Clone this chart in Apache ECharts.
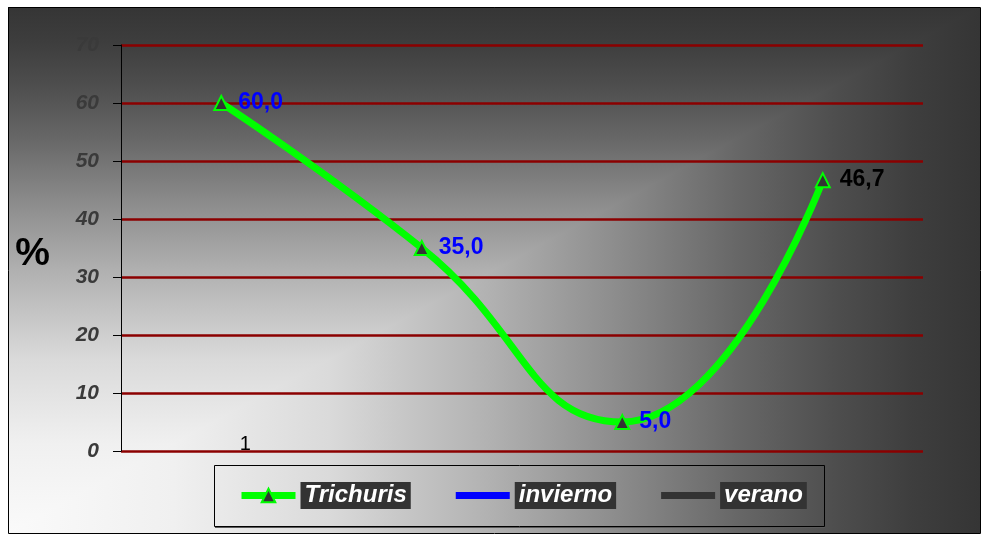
<!DOCTYPE html>
<html>
<head>
<meta charset="utf-8">
<script src="https://cdn.jsdelivr.net/npm/echarts@6/dist/echarts.min.js"></script>
<style>
  html, body { margin: 0; padding: 0; background: #ffffff; }
  #chart { width: 981px; height: 534px; }
</style>
</head>
<body>
<div id="chart"></div>
<script>
// Category slots along the x axis (only the first one is labelled)
const categories = ['1', '2', '3', '4'];
// Prevalence values (%)
const trichuris = [60.0, 35.0, 5.0, 46.7];
const invierno = [];
const verano = [];
// Value-label colours for each Trichuris point
const labelColors = ['#0000ff', '#0000ff', '#0000ff', '#000000'];
// Y axis scale and title
const yMin = 0;
const yMax = 70;
const yStep = 10;
const yTitle = '%';

const FONT = '"Liberation Sans", Arial, sans-serif';

// Chart frame; its background is shaded outward from the lower-left corner
const frame = { x: 8, y: 7, w: 972, h: 526 };
const shadeStops = [
  [0, '#fafafa'], [0.17, '#f0f0f0'], [0.33, '#dadada'], [0.5, '#b0b0b0'],
  [0.62, '#8e8e8e'], [0.75, '#676767'], [0.85, '#4e4e4e'], [0.93, '#3e3e3e'], [1, '#353535']
];
function toStops(arr) { return arr.map(s => ({ offset: s[0], color: s[1] })); }

const chart = echarts.init(document.getElementById('chart'));

const fx0 = frame.x, fy0 = frame.y, fx1 = frame.x + frame.w, fy1 = frame.y + frame.h;

chart.setOption({
  animation: false,
  textStyle: { fontFamily: FONT },
  graphic: [
    // upper-left half: shaded bottom to top
    {
      type: 'rect', silent: true, z: -100,
      shape: { x: fx0, y: fy0, width: frame.w, height: frame.h },
      style: { fill: new echarts.graphic.LinearGradient(0, fy1, 0, fy0, toStops(shadeStops), true) }
    },
    // lower-right half: shaded left to right
    {
      type: 'polygon', silent: true, z: -99,
      shape: { points: [[fx0, fy1], [fx1, fy1], [fx1, fy0]] },
      style: { fill: new echarts.graphic.LinearGradient(fx0, 0, fx1, 0, toStops(shadeStops), true) }
    },
    {
      type: 'rect', silent: true, z: 100,
      shape: { x: fx0 + 0.5, y: fy0 + 0.5, width: frame.w, height: frame.h },
      style: { fill: 'none', stroke: '#000000', lineWidth: 1 }
    },
    // y axis title
    {
      type: 'text', silent: true, z: 10,
      x: 50, y: 254,
      style: {
        text: yTitle, align: 'right', verticalAlign: 'middle',
        fill: '#000000', font: 'bold 39px ' + FONT
      }
    },
    // legend frame
    {
      type: 'rect', silent: true, z: -50,
      shape: { x: 214.5, y: 465.5, width: 610, height: 61 },
      style: { fill: 'none', stroke: '#000000', lineWidth: 1 }
    },
    {
      type: 'line', silent: true, z: -50,
      shape: { x1: 215, y1: 527.5, x2: 825, y2: 527.5 },
      style: { stroke: '#5a5a5a', lineWidth: 1 }
    }
  ],
  grid: {
    left: 121, right: 58, top: 45, bottom: 83,
    containLabel: false, outerBoundsMode: 'none'
  },
  legend: {
    left: 238, top: 482, padding: 0,
    itemGap: 45, itemWidth: 54, itemHeight: 17,
    selectedMode: false,
    lineStyle: { width: 7 },
    data: [
      { name: 'Trichuris' },
      { name: 'invierno', icon: 'path://M0,0H54V7H0Z', itemStyle: { color: '#0000ff' } },
      { name: 'verano', icon: 'path://M0,0H54V7H0Z', itemStyle: { color: '#333333' } }
    ],
    textStyle: {
      color: '#ffffff', fontSize: 24, fontStyle: 'italic', fontWeight: 'bold',
      fontFamily: FONT, backgroundColor: '#333333', padding: [2, 4, 1, 4], lineHeight: 24
    }
  },
  xAxis: {
    type: 'category',
    data: categories,
    boundaryGap: true,
    axisLine: { show: false },
    axisTick: { show: false },
    splitLine: { show: false },
    axisLabel: {
      interval: 0,
      formatter: (v, i) => (i === 0 ? v : ''),
      margin: -17,
      fontSize: 20,
      color: '#000000',
      fontFamily: FONT,
      padding: [0, 0, 0, 48]
    }
  },
  yAxis: {
    type: 'value',
    min: yMin, max: yMax, interval: yStep,
    axisLine: { show: true, lineStyle: { color: '#000000', width: 1 } },
    axisTick: { show: true, length: 8, lineStyle: { color: '#000000', width: 1 } },
    axisLabel: {
      margin: 22, fontSize: 21, fontWeight: 'bold', fontStyle: 'italic',
      color: '#3a3a3a', fontFamily: FONT
    },
    splitLine: { show: true, lineStyle: { color: '#8b0000', width: 2.5 } }
  },
  series: [
    {
      name: 'Trichuris',
      type: 'line',
      data: trichuris.map((v, i) => ({ value: v, label: { color: labelColors[i] } })),
      smooth: 0.5,
      symbol: 'triangle',
      symbolSize: 14,
      showAllSymbol: true,
      z: 5,
      lineStyle: { color: '#00ff00', width: 7 },
      itemStyle: { color: '#333333', borderColor: '#00ff00', borderWidth: 2 },
      label: {
        show: true,
        position: 'right',
        distance: 9,
        fontSize: 23,
        fontWeight: 'bold',
        fontFamily: FONT,
        formatter: p => Number(p.value).toFixed(1).replace('.', ',')
      }
    },
    {
      name: 'invierno',
      type: 'line',
      data: invierno,
      symbol: 'none',
      lineStyle: { color: '#0000ff', width: 7 },
      itemStyle: { color: '#0000ff' }
    },
    {
      name: 'verano',
      type: 'line',
      data: verano,
      symbol: 'none',
      lineStyle: { color: '#333333', width: 7 },
      itemStyle: { color: '#333333' }
    }
  ]
});
</script>
</body>
</html>
